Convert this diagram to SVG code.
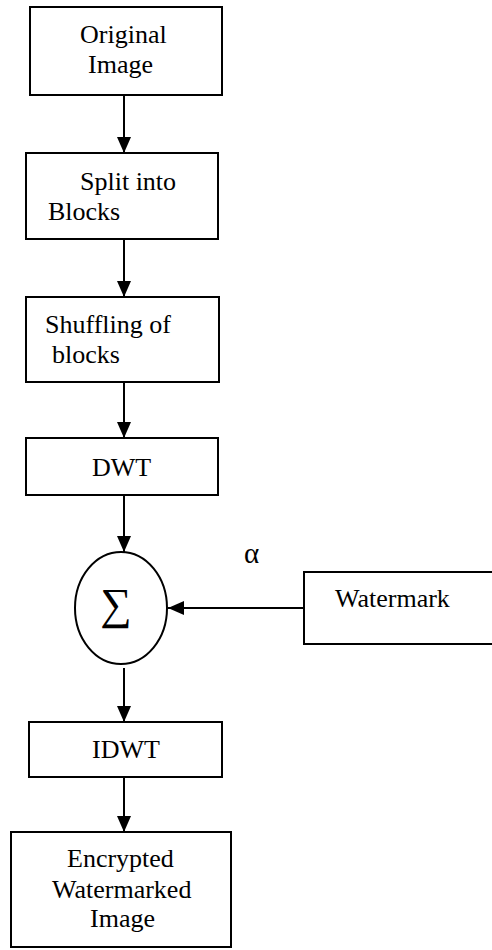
<svg xmlns="http://www.w3.org/2000/svg" width="492" height="950" viewBox="0 0 492 950">
<style>
.box{fill:#fff;stroke:#000;stroke-width:2}
.t{font-family:"Liberation Serif","Times New Roman",serif;font-size:26px;fill:#000}
.c{stroke:#000;stroke-width:2;fill:none}
</style>
<defs>
<marker id="ah" markerUnits="userSpaceOnUse" markerWidth="16" markerHeight="16" viewBox="0 0 16 16" refX="16" refY="8" orient="auto">
<path d="M0,1 L16,8 L0,15 Z" fill="#000"/>
</marker>
</defs>
<rect width="492" height="950" fill="#fff"/>
<g id="connectors">
<line class="c" x1="124" y1="95" x2="124" y2="153" marker-end="url(#ah)"/>
<line class="c" x1="124" y1="239" x2="124" y2="297" marker-end="url(#ah)"/>
<line class="c" x1="124" y1="382" x2="124" y2="438" marker-end="url(#ah)"/>
<line class="c" x1="124" y1="495" x2="124" y2="552" marker-end="url(#ah)"/>
<line class="c" x1="304" y1="608" x2="168" y2="608" marker-end="url(#ah)"/>
<line class="c" x1="124" y1="668" x2="124" y2="722" marker-end="url(#ah)"/>
<line class="c" x1="124" y1="777" x2="124" y2="832" marker-end="url(#ah)"/>
</g>
<g id="original">
<rect class="box" x="30" y="7" width="192" height="88"/>
<text class="t" x="80" y="43">Original</text>
<text class="t" x="88" y="73">Image</text>
</g>
<g id="split">
<rect class="box" x="26" y="153" width="192" height="86"/>
<text class="t" x="80" y="190">Split into</text>
<text class="t" x="48" y="220">Blocks</text>
</g>
<g id="shuffling">
<rect class="box" x="26" y="297" width="193" height="85"/>
<text class="t" x="45" y="333">Shuffling of</text>
<text class="t" x="52" y="363">blocks</text>
</g>
<g id="dwt">
<rect class="box" x="26" y="438" width="192" height="57"/>
<text class="t" x="92" y="476">DWT</text>
</g>
<g id="sum">
<ellipse class="box" cx="121" cy="608" rx="46" ry="56"/>
<text class="t" x="116" y="619" text-anchor="middle" style="font-size:44px">∑</text>
</g>
<g id="alpha">
<text class="t" x="244" y="563" style="font-size:29px">α</text>
</g>
<g id="watermark">
<rect class="box" x="304" y="572" width="200" height="72"/>
<text class="t" x="335" y="607">Watermark</text>
</g>
<g id="idwt">
<rect class="box" x="29" y="722" width="193" height="55"/>
<text class="t" x="92" y="758">IDWT</text>
</g>
<g id="encrypted">
<rect class="box" x="11" y="832" width="220" height="115"/>
<text class="t" x="67" y="867">Encrypted</text>
<text class="t" x="52" y="898">Watermarked</text>
<text class="t" x="90" y="927">Image</text>
</g>
</svg>
